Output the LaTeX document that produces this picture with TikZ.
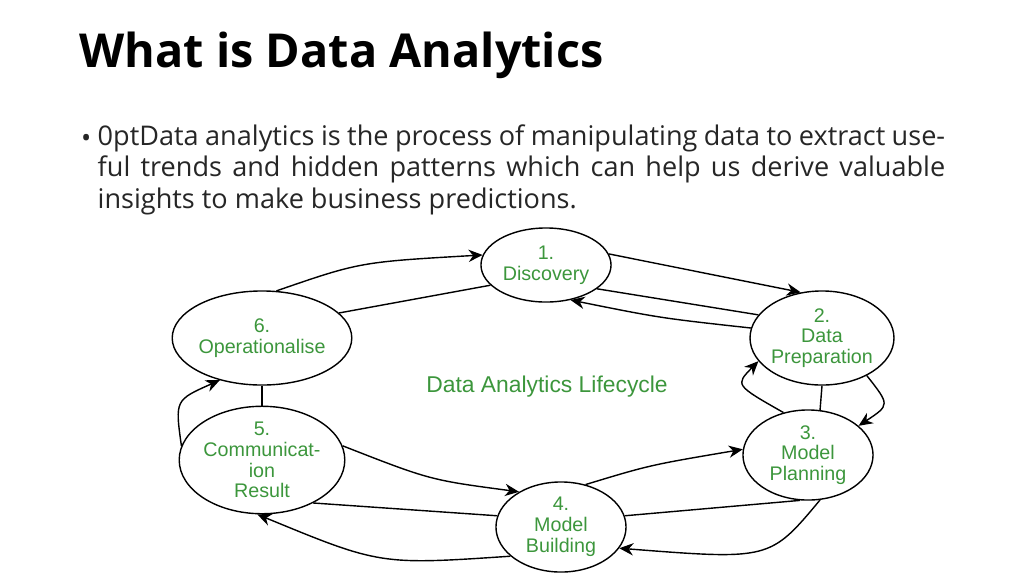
\documentclass[tikz,border=0pt]{standalone}
\usepackage{fontspec}
\setmainfont{Open Sans}
\newfontfamily\diagfont{Liberation Sans}
\usetikzlibrary{shapes.geometric,arrows.meta}
\definecolor{stepgreen}{RGB}{60,150,60}
\begin{document}
\begin{tikzpicture}[x=0.01cm,y=-0.01cm,thin,
  step node/.style={ellipse,draw,inner sep=0pt,minimum width=1.3cm,minimum height=0.94cm,align=center,
    text=stepgreen,font=\diagfont\fontsize{5.6}{5.9}\selectfont},
  arr/.style={-{Stealth[length=4pt,width=3.5pt]}}]
  \useasboundingbox (0,0) rectangle (1024,575);
  \node[anchor=west,inner sep=0pt,font=\bfseries\fontsize{13.3}{15}\selectfont] (title) at (79,55) {What is Data Analytics};
  \node[anchor=north west,text width=8.47cm,align=justify,inner sep=0pt,
    font=\fontsize{7.7}{8.9}\selectfont\hyphenpenalty=10000,text=black!85] (body) at (97,124)
    {Data analytics is the process of manipulating data to extract useful trends and hidden patterns which can help us derive valuable insights to make business predictions.};
  \node[anchor=base east,inner sep=0pt,font=\fontsize{7.7}{8.9}\selectfont,text=black!85] (bullet) at (92,147) {\textbullet};
  \node[step node,minimum height=0.74cm] (n1) at (546,265) {1.\\Discovery};
  \node[step node] (n2) at (822,338) {2.\\Data\\Preparation};
  \node[step node,minimum height=0.9cm] (n3) at (808,455) {3.\\Model\\Planning};
  \node[step node,minimum height=0.9cm] (n4) at (561,527) {4.\\Model\\Building};
  \node[step node] (n5) at (262,460) {5.\\Communicat-\\ion\\Result};
  \node[step node] (n6) at (262,338) {6.\\Operationalise};
  \node[text=stepgreen,font=\diagfont\fontsize{6.5}{7}\selectfont] (life) at (547,387) {Data Analytics Lifecycle};

  \draw[arr] (n6.73) .. controls (360,262) .. (n1.171);
  \draw (n1.200) -- (n6.18);
  \draw[arr] (n1.10) .. controls (700,272) .. (n2.115);
  \draw[arr] (n2.172) .. controls (660,318) .. (n1.-55);
  \draw (n1.-25) -- (n2.160);
  \draw[arr] (n3.120) .. controls (735,385) .. (n2.200);
  \draw (n2.-90) -- (n3.75);
  \draw[arr] (n2.-40) .. controls (890,405) .. (n3.30);
  \draw[arr] (n4.60) .. controls (650,465) .. (n3.175);
  \draw (n3.-100) -- (n4.10);
  \draw[arr] (n3.-75) .. controls (770,560) .. (n4.-20);
  \draw[arr] (n5.10) .. controls (430,480) .. (n4.140);
  \draw (n4.170) -- (n5.-40);
  \draw[arr] (n4.-150) .. controls (380,565) .. (n5.-95);
  \draw[arr] (n5.170) .. controls (175,400) .. (n6.-135);
  \draw (n6.south) -- (n5.north);
\end{tikzpicture}
\end{document}
